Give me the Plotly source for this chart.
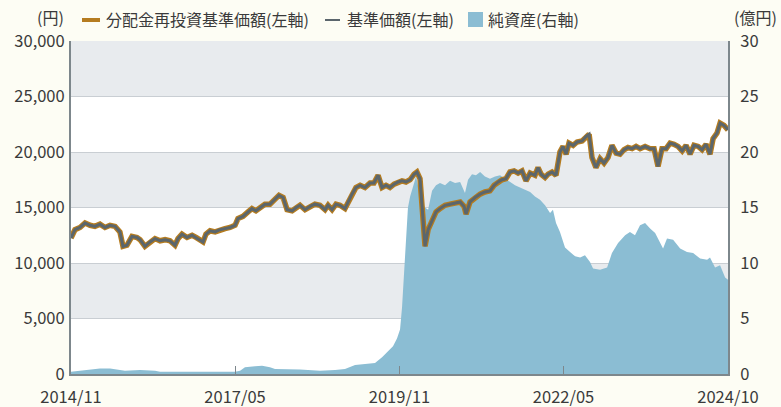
import plotly.graph_objects as go

# 基準価額 / 分配金再投資基準価額 (円) — same values (no distributions)
price_dates = [
    "2014-11-01","2014-11-23","2014-12-21","2015-01-18","2015-02-15","2015-03-14","2015-04-11","2015-05-09",
    "2015-06-06","2015-07-04","2015-07-31","2015-08-17","2015-09-08","2015-10-06","2015-11-03","2015-11-20",
    "2015-12-17","2016-01-14","2016-02-11","2016-03-10","2016-04-07","2016-05-04","2016-06-01","2016-06-18",
    "2016-07-10","2016-08-07","2016-09-04","2016-09-26","2016-10-18","2016-11-04","2016-11-20","2016-12-13",
    "2017-01-10","2017-02-06","2017-03-06","2017-04-03","2017-05-01","2017-05-17","2017-06-14","2017-07-12",
    "2017-08-03","2017-08-25","2017-09-17","2017-10-14","2017-11-11","2017-12-09","2017-12-31","2018-01-23",
    "2018-02-14","2018-03-14","2018-04-05","2018-04-27","2018-05-25","2018-06-22","2018-07-19","2018-08-16",
    "2018-09-13","2018-09-30","2018-10-22","2018-11-13","2018-12-05","2019-01-02","2019-01-19","2019-02-10",
    "2019-03-04","2019-03-27","2019-04-23","2019-05-21","2019-06-12","2019-07-05","2019-07-27","2019-08-18",
    "2019-09-09","2019-10-02","2019-10-24","2019-11-15","2019-12-07","2019-12-30","2020-01-21","2020-02-06",
    "2020-02-23","2020-03-05","2020-03-22","2020-04-08","2020-04-30","2020-05-22","2020-06-13","2020-07-11",
    "2020-08-08","2020-09-05","2020-10-03","2020-10-25","2020-11-05","2020-11-27","2020-12-25","2021-01-22",
    "2021-02-18","2021-03-18","2021-04-10","2021-05-02","2021-05-24","2021-06-15","2021-07-07","2021-07-30",
    "2021-08-21","2021-09-12","2021-10-04","2021-10-27","2021-11-23","2021-12-10","2021-12-27","2022-01-18",
    "2022-02-04","2022-02-26","2022-03-20","2022-04-11","2022-04-28","2022-05-15","2022-05-31","2022-06-23",
    "2022-07-15","2022-08-12","2022-09-03","2022-09-20","2022-10-06","2022-10-28","2022-11-20","2022-12-12",
    "2023-01-03","2023-01-25","2023-02-17","2023-03-11","2023-04-02","2023-04-24","2023-05-17","2023-06-08",
    "2023-06-30","2023-07-28","2023-08-25","2023-09-16","2023-10-08","2023-10-30","2023-11-22","2023-12-14",
    "2024-01-05","2024-01-27","2024-02-19","2024-03-12","2024-04-03","2024-04-25","2024-05-18","2024-06-09",
    "2024-07-01","2024-07-23","2024-08-09","2024-08-31","2024-09-17","2024-10-09","2024-10-31",
]
nav_reinvested = [
    12250,13000,13200,13600,13400,13300,13500,13200,
    13400,13300,12800,11500,11600,12400,12300,12100,
    11500,11900,12200,12000,12100,12000,11600,12200,
    12600,12300,12500,12300,12100,11900,12600,12900,
    12800,13000,13100,13200,13400,14000,14200,14600,
    14900,14700,15000,15300,15300,15800,16100,15900,
    14800,14700,15000,15200,14800,15100,15300,15200,
    14800,15200,14800,15300,15200,14900,15500,16200,
    16800,17000,16800,17200,17200,17900,16800,17000,
    16800,17100,17300,17400,17300,17500,18000,18200,
    17600,15000,11500,13000,13800,14600,14900,15200,
    15300,15400,15500,15100,14400,15500,15900,16200,
    16400,16500,17000,17300,17500,17600,18200,18300,
    18100,18300,17400,18100,17900,18600,18000,17700,
    18000,18200,17900,20000,20500,19800,20800,20600,
    20900,21000,21400,21600,19500,18600,19400,19000,
    19500,20600,19900,19800,20200,20400,20300,20500,
    20300,20500,20300,20300,18700,20300,20300,20800,
    20700,20500,20100,20600,19800,20600,20500,20200,
    20700,19800,21200,21700,22600,22400,22000,
]
nav = list(nav_reinvested)

# 純資産 (億円)
asset_dates = [
    "2014-11-01","2014-12-21","2015-02-15","2015-04-11","2015-06-06","2015-07-20","2015-08-28","2015-11-20",
    "2016-02-11","2016-03-10","2016-06-01","2016-10-18","2017-03-06","2017-05-01","2017-05-29","2017-06-25",
    "2017-08-20","2017-09-28","2017-11-11","2017-12-09","2018-04-27","2018-08-16","2018-11-08","2019-01-02",
    "2019-02-27","2019-04-23","2019-06-18","2019-07-27","2019-08-29","2019-09-26","2019-10-18","2019-11-04",
    "2019-11-15","2019-11-26","2019-12-07","2019-12-18","2019-12-30","2020-01-15","2020-02-01","2020-02-18",
    "2020-03-05","2020-03-22","2020-04-08","2020-04-30","2020-05-22","2020-06-13","2020-07-11","2020-08-08",
    "2020-09-05","2020-10-03","2020-10-30","2020-11-16","2020-12-08","2020-12-30","2021-01-22","2021-02-18",
    "2021-03-18","2021-04-15","2021-05-13","2021-06-10","2021-07-07","2021-08-04","2021-09-01","2021-09-29",
    "2021-10-27","2021-11-23","2021-12-21","2022-01-18","2022-02-15","2022-03-03","2022-03-20","2022-04-11",
    "2022-05-09","2022-06-06","2022-07-04","2022-08-01","2022-08-28","2022-09-25","2022-10-12","2022-11-20",
    "2022-12-29","2023-01-25","2023-02-28","2023-04-08","2023-05-05","2023-06-02","2023-06-30","2023-07-28",
    "2023-08-25","2023-09-22","2023-10-19","2023-11-05","2023-11-27","2023-12-31","2024-02-08","2024-03-17",
    "2024-04-20","2024-05-29","2024-07-07","2024-07-23","2024-08-20","2024-09-17","2024-10-15","2024-10-31",
]
net_assets = [
    0.2,0.3,0.45,0.5,0.5,0.4,0.3,0.35,
    0.3,0.2,0.2,0.2,0.15,0.2,0.3,0.6,
    0.7,0.75,0.6,0.45,0.4,0.3,0.35,0.45,
    0.8,0.9,1.0,1.5,2.0,2.5,3.2,4.0,
    6.0,9.0,12.5,15.0,16.0,17.0,17.8,16.5,
    15.5,15.0,14.8,16.5,17.0,17.2,17.0,17.4,
    17.2,17.3,16.3,17.5,18.0,17.9,18.2,17.8,
    17.6,17.8,17.9,17.6,17.3,17.0,16.8,16.6,
    16.4,16.0,15.7,15.2,14.5,14.8,13.6,12.8,
    11.4,11.0,10.6,10.5,10.7,10.1,9.5,9.4,
    9.6,10.9,11.8,12.5,12.8,12.5,13.4,13.6,
    13.1,12.7,11.9,11.3,12.2,12.1,11.3,11.0,
    10.9,10.4,10.3,10.5,9.6,9.8,8.7,8.5,
]

x_tickvals = ["2014-11-01", "2017-05-01", "2019-11-01", "2022-05-01", "2024-10-31"]
x_ticktext = ["2014/11", "2017/05", "2019/11", "2022/05", "2024/10"]
left_ticks = [0, 5000, 10000, 15000, 20000, 25000, 30000]
right_ticks = [0, 5, 10, 15, 20, 25, 30]

legend_labels = ["分配金再投資基準価額(左軸)", "基準価額(左軸)", "純資産(右軸)"]

FONT = "Noto Sans CJK JP"
TXT = "#3a3a3a"
ORANGE = "#b57c20"
GRAY = "#5b666c"
BLUE = "#8bbdd3"
AX = "#7d878c"
BG = "#fdfdf4"
TICKFONT = dict(family=FONT, size=16.5, color=TXT)

fig = go.Figure()
fig.add_trace(go.Scatter(x=asset_dates, y=net_assets, yaxis="y", mode="lines",
                         line=dict(width=0, color=BLUE), fill="tozeroy", fillcolor=BLUE,
                         name=legend_labels[2], showlegend=False, hoverinfo="skip"))
fig.add_trace(go.Scatter(x=price_dates, y=nav_reinvested, yaxis="y2", mode="lines",
                         line=dict(width=5.5, color=ORANGE), name=legend_labels[0], showlegend=False))
fig.add_trace(go.Scatter(x=price_dates, y=nav, yaxis="y2", mode="lines",
                         line=dict(width=3, color=GRAY), name=legend_labels[1], showlegend=False))

shapes = []
for lo in (5000, 15000, 25000):
    shapes.append(dict(type="rect", xref="paper", yref="y2", x0=0, x1=1, y0=lo, y1=lo + 5000,
                       fillcolor="#e8ebee", line=dict(width=0), layer="below"))
# legend glyphs
LY = 1 + (41-20)/333
shapes.append(dict(type="line", xref="paper", yref="paper", x0=(82-71)/657, x1=(100-71)/657,
                   y0=LY, y1=LY, line=dict(color=ORANGE, width=4)))
shapes.append(dict(type="line", xref="paper", yref="paper", x0=(325-71)/657, x1=(340-71)/657,
                   y0=LY, y1=LY, line=dict(color=GRAY, width=2)))
shapes.append(dict(type="rect", xref="paper", yref="paper", x0=(468-71)/657, x1=(483-71)/657,
                   y0=1 + (41-27)/333, y1=1 + (41-12)/333, fillcolor=BLUE, line=dict(width=0)))

def ann(text, xpx, ypx, anchor="left"):
    return dict(text=text, xref="paper", yref="paper", x=(xpx-71)/657, y=1 + (41-ypx)/333,
                xanchor=anchor, yanchor="middle", showarrow=False,
                font=dict(family=FONT, size=16, color=TXT))

annotations = [
    ann("(円)", 66, 17, "right"),
    ann(legend_labels[0], 104, 19),
    ann(legend_labels[1], 345, 19),
    ann(legend_labels[2], 486, 19),
    ann("(億円)", 732, 17),
]

fig.update_layout(
    width=781, height=407,
    margin=dict(l=71, r=53, t=41, b=33, autoexpand=False),
    paper_bgcolor=BG, plot_bgcolor="#ffffff",
    font=dict(family=FONT, size=16, color=TXT),
    showlegend=False,
    shapes=shapes, annotations=annotations,
    xaxis=dict(type="date", range=["2014-11-01", "2024-10-31"], tickvals=x_tickvals, ticktext=x_ticktext,
               ticks="inside", ticklen=8, tickcolor=AX, tickwidth=1, automargin=False,
               showline=True, linecolor=AX, linewidth=2, showgrid=False, zeroline=False,
               tickfont=TICKFONT, ticklabelstandoff=7),
    yaxis=dict(side="right", range=[0, 30], tickvals=right_ticks, showgrid=True, gridcolor="#c9ced3",
               gridwidth=1, showline=True, linecolor=AX, linewidth=2, zeroline=False, automargin=False,
               tickfont=TICKFONT, ticklabelstandoff=7),
    yaxis2=dict(side="left", overlaying="y", range=[0, 30000], tickvals=left_ticks, tickformat=",",
                showgrid=False, showline=True, linecolor=AX, linewidth=2, zeroline=False, automargin=False,
                tickfont=TICKFONT, ticklabelstandoff=1),
)

post = ("document.documentElement.style.margin='0';document.body.style.margin='0';"
        "document.body.style.padding='0';document.body.style.overflow='hidden';"
        "document.body.style.background='%s';" % BG)
fig.write_html("out.html", post_script=post, config={"displayModeBar": False})
